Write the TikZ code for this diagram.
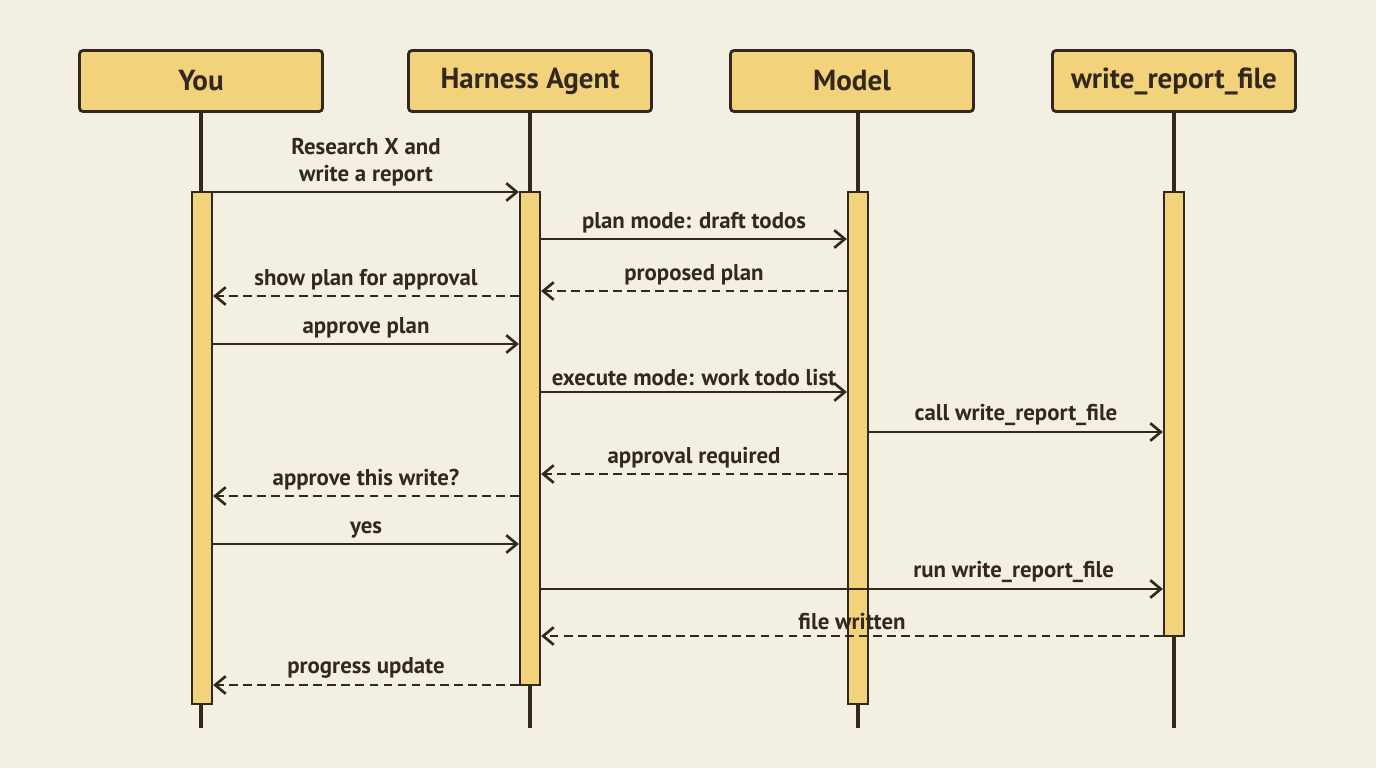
\documentclass[tikz,border=0pt]{standalone}
\usepackage{fontspec}
\setmainfont{PT Sans}
\usetikzlibrary{arrows.meta}
\definecolor{paper}{HTML}{F3EFE3}
\definecolor{boxfill}{HTML}{F2D27A}
\definecolor{ink}{HTML}{33281E}
\tikzset{
  head/.style={draw=ink, fill=boxfill, line width=1.6pt, rounded corners=2pt,
    minimum width=243\pxu, minimum height=61\pxu, font=\bfseries\fontsize{16.5}{18}\selectfont, text=ink},
  bar/.style={draw=ink, fill=boxfill, line width=1.3pt, minimum width=20\pxu, inner sep=0pt},
  life/.style={ink, line width=2.2pt},
  msg/.style={ink, line width=1.5pt, -{Straight Barb[length=6pt,width=10pt]}},
  reply/.style={msg, dash pattern=on 5pt off 3pt},
  lbl/.style={above=-0.5pt, font=\bfseries\fontsize{13}{15}\selectfont, text=ink, align=center}
}
\def\pxu{*0.02cm}
\newcommand{\msgline}[5]{\draw[#4] (#1 |- 0,#3) -- node[lbl]{#5} (#2 |- 0,#3);}
\begin{document}
\begin{tikzpicture}[x=0.02cm,y=-0.02cm]
\fill[paper] (0,0) rectangle (1376,768);
\useasboundingbox (0,0) rectangle (1376,768);
% heads
\node[head] (you) at (201,81) {You};
\node[head] (har) at (530,81) {Harness Agent};
\node[head] (mod) at (852,81) {Model};
\node[head] (wrf) at (1174,81) {write\_report\_file};
% lifelines
\coordinate (youE) at (201,728);
\coordinate (harE) at (530,728);
\coordinate (modE) at (858,728);
\coordinate (wrfE) at (1174,728);
\draw[life] (you.south) -- (youE);
\draw[life] (har.south) -- (harE);
\draw[life] (mod.south -| modE) -- (modE);
\draw[life] (wrf.south) -- (wrfE);
% activation bars
\node[bar, minimum height=512\pxu] (bYou) at (202,448) {};
\node[bar, minimum height=493\pxu] (bHar) at (530,438.5) {};
\node[bar, minimum height=512\pxu] (bMod) at (858,448) {};
\node[bar, minimum height=444\pxu] (bWrf) at (1174,414) {};
% messages
\msgline{bYou.east}{bHar.west}{192}{msg}{Research X and\\write a report}
\msgline{bHar.east}{bMod.west}{239}{msg}{plan mode: draft todos}
\msgline{bMod.west}{bHar.east}{291}{reply}{proposed plan}
\msgline{bHar.west}{bYou.east}{296}{reply}{show plan for approval}
\msgline{bYou.east}{bHar.west}{344}{msg}{approve plan}
\msgline{bHar.east}{bMod.west}{392}{msg}{execute mode: work todo list}
\msgline{bMod.east}{bWrf.west}{432}{msg}{call write\_report\_file}
\msgline{bMod.west}{bHar.east}{474}{reply}{approval required}
\msgline{bHar.west}{bYou.east}{496}{reply}{approve this write?}
\msgline{bYou.east}{bHar.west}{544}{msg}{yes}
\draw[msg] (bHar.east |- 0,589) -- node[lbl, pos=0.76]{run write\_report\_file} (bWrf.west |- 0,589);
\msgline{bWrf.west}{bHar.east}{636}{reply}{file written}
\msgline{bHar.west}{bYou.east}{685}{reply}{progress update}
\end{tikzpicture}
\end{document}
